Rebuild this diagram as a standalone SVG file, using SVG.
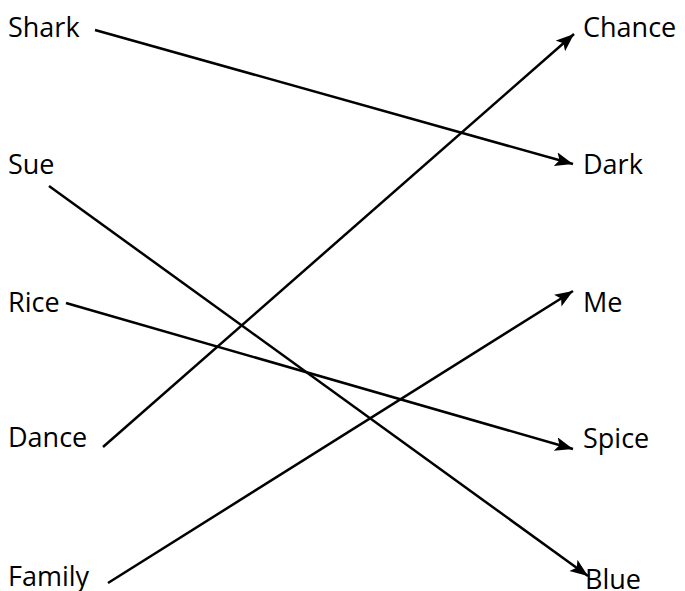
<svg xmlns="http://www.w3.org/2000/svg" width="685" height="591" viewBox="0 0 685 591">
<style>
text{font-family:"Open Sans","Noto Sans",sans-serif;font-size:27px;fill:#000}
.c line{stroke:#000;stroke-width:2.5;fill:none;marker-end:url(#ah)}
</style>
<defs>
<marker id="ah" markerUnits="userSpaceOnUse" markerWidth="20" markerHeight="16" refX="18" refY="7" orient="auto">
<path d="M0,0 L18,7 L0,14 L4,7 Z" fill="#000"/>
</marker>
</defs>
<rect width="685" height="591" fill="#fff"/>
<g id="shark"><text x="8" y="37">Shark</text></g>
<g id="sue"><text x="8" y="174">Sue</text></g>
<g id="rice"><text x="8" y="312">Rice</text></g>
<g id="dance"><text x="8" y="447">Dance</text></g>
<g id="family"><text x="8" y="586">Family</text></g>
<g id="chance"><text x="583" y="37">Chance</text></g>
<g id="dark"><text x="583" y="174">Dark</text></g>
<g id="me"><text x="583" y="312">Me</text></g>
<g id="spice"><text x="583" y="448">Spice</text></g>
<g id="blue"><text x="585" y="589">Blue</text></g>
<g class="c" id="connectors">
<line x1="95" y1="30" x2="573" y2="164"/>
<line x1="49" y1="186" x2="588" y2="576"/>
<line x1="66" y1="303" x2="573" y2="449"/>
<line x1="103" y1="447" x2="574" y2="34"/>
<line x1="108" y1="583" x2="573" y2="291"/>
</g>
</svg>
